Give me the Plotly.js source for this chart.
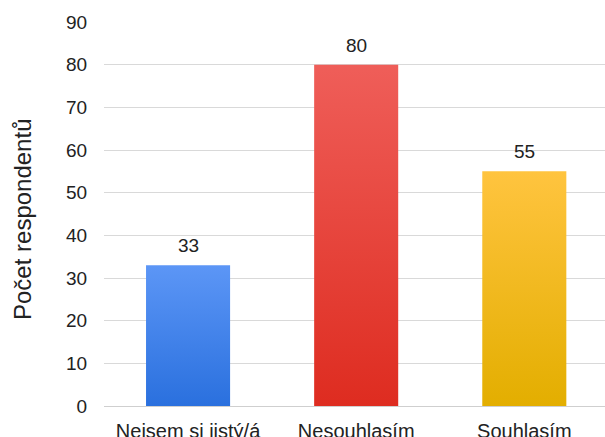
<!DOCTYPE html>
<html>
<head>
<meta charset="utf-8">
<script src="https://cdn.plot.ly/plotly-3.0.1.min.js"></script>
<style>html,body{margin:0;padding:0;background:#fff;}#chart{width:605px;height:437px;}</style>
</head>
<body>
<div id="chart"></div>
<script>
const categories = ["Nejsem si jistý/á", "Nesouhlasím", "Souhlasím"];
const counts = [33, 80, 55];
const colorsMid = ["#3d86f5", "#e93b2f", "#fbbd12"];
const gradTop = ["#5c96f6", "#ef5e59", "#ffc43f"];
const gradBottom = ["#2a70de", "#de2c20", "#e3ae00"];
const yTicks = [0, 10, 20, 30, 40, 50, 60, 70, 80, 90];
const yTitle = "Počet respondentů";

const font = "Liberation Sans, Arial, sans-serif";

const trace = {
  type: "bar",
  x: categories,
  y: counts,
  width: 0.5,
  marker: {color: colorsMid, line: {width: 0}},
  hoverinfo: "none"
};

const valueLabels = categories.map((c, i) => ({
  x: c, y: counts[i], xref: "x", yref: "y",
  text: String(counts[i]), showarrow: false,
  yanchor: "bottom", yshift: 7,
  font: {size: 19, color: "#222", family: font}
}));

const layout = {
  width: 605, height: 437,
  margin: {l: 104, r: 0, t: 22, b: 31},
  paper_bgcolor: "#fff", plot_bgcolor: "#fff",
  showlegend: false,
  font: {family: font, color: "#222"},
  xaxis: {
    type: "category",
    range: [-0.5, 2.48],
    tickfont: {size: 20, color: "#222", family: font},
    showgrid: false,
    showline: true, linecolor: "#cfcfcf", linewidth: 1,
    ticks: "outside", ticklen: 7, tickcolor: "rgba(0,0,0,0)"
  },
  yaxis: {
    range: [0, 90],
    tickvals: yTicks,
    tickfont: {size: 19, color: "#222", family: font},
    showgrid: true, gridcolor: "#d9d9d9", gridwidth: 1,
    zeroline: false,
    ticks: "outside", ticklen: 12, tickcolor: "rgba(0,0,0,0)"
  },
  annotations: valueLabels.concat([{
    xref: "paper", yref: "paper", x: 0, y: 0.5,
    xanchor: "center", yanchor: "middle",
    xshift: -82, yshift: -6,
    textangle: -90, text: yTitle, showarrow: false,
    font: {size: 24, color: "#222", family: font}
  }])
};

Plotly.newPlot("chart", [trace], layout, {staticPlot: true, displayModeBar: false}).then(gd => {
  const svg = gd.querySelector(".main-svg");
  const ns = "http://www.w3.org/2000/svg";
  let defs = svg.querySelector("defs");
  if (!defs) { defs = document.createElementNS(ns, "defs"); svg.insertBefore(defs, svg.firstChild); }
  categories.forEach((c, i) => {
    const g = document.createElementNS(ns, "linearGradient");
    g.setAttribute("id", "bargrad" + i);
    g.setAttribute("x1", "0"); g.setAttribute("y1", "0");
    g.setAttribute("x2", "0"); g.setAttribute("y2", "1");
    const s1 = document.createElementNS(ns, "stop");
    s1.setAttribute("offset", "0"); s1.setAttribute("stop-color", gradTop[i]);
    const s2 = document.createElementNS(ns, "stop");
    s2.setAttribute("offset", "1"); s2.setAttribute("stop-color", gradBottom[i]);
    g.appendChild(s1); g.appendChild(s2);
    defs.appendChild(g);
  });
  gd.querySelectorAll(".barlayer .point path").forEach((p, i) => {
    p.style.fill = "url(#bargrad" + i + ")";
  });
});
</script>
</body>
</html>
